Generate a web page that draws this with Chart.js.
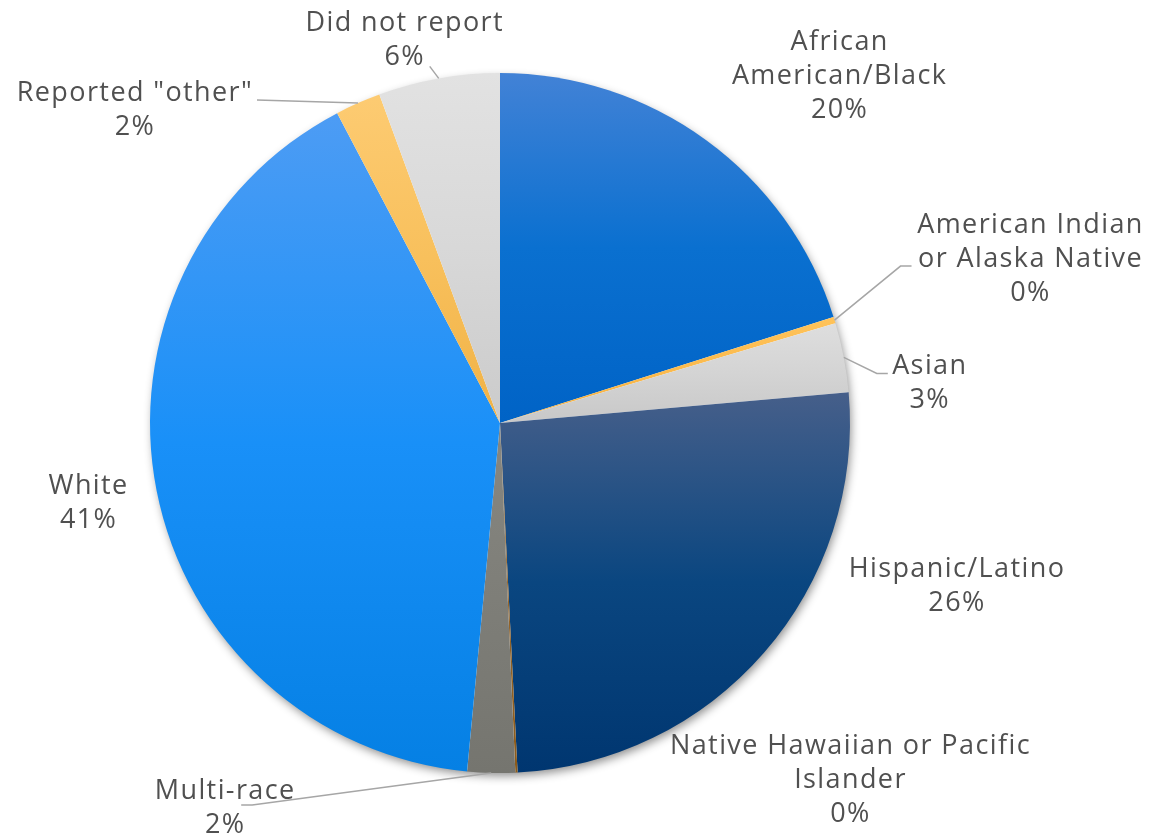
<!DOCTYPE html>
<html>
<head>
<meta charset="utf-8">
<script src="https://cdn.jsdelivr.net/npm/chart.js@4.4.1/dist/chart.umd.min.js"></script>
<style>
  html, body { margin: 0; padding: 0; background: #ffffff; }
  #raceChart { display: block; }
</style>
</head>
<body>
<canvas id="raceChart" width="1150" height="838"></canvas>
<script>
const categories = [
  ["African", "American/Black"],
  ["American Indian", "or Alaska Native"],
  ["Asian"],
  ["Hispanic/Latino"],
  ["Native Hawaiian or Pacific", "Islander"],
  ["Multi-race"],
  ["White"],
  ['Reported "other"'],
  ["Did not report"]
];
const shares = [20.1, 0.3, 3.2, 25.6, 0.1, 2.2, 40.8, 2.1, 5.6];

// top / middle / bottom colour of each slice's vertical gradient
const topColors = ["#4282d6", "#ffc35a", "#dedede", "#465f8a", "#a0702a", "#878781", "#4d9cf4", "#fdcb72", "#e2e2e2"];
const midColors = ["#0a70d0", "#fbba4d", "#d4d4d4", "#0a4680", "#95652a", "#7e7e78", "#1990f8", "#f8c05c", "#d8d8d8"];
const bottomColors = ["#0063c6", "#f5b040", "#c8c8c8", "#003670", "#8a5a1a", "#75756f", "#0580e4", "#f0b246", "#cbcbcb"];

// label placement relative to the outer middle of each slice,
// leader points relative to the label centre
const labelLayout = [
  { dx: 133, dy: -66, leader: [] },
  { dx: 196, dy: -63, leader: [[-130, 9], [-119, 9]] },
  { dx: 86, dy: 24, leader: [[-53, -8], [-42, -8]] },
  { dx: 193, dy: -68, leader: [] },
  { dx: 334, dy: 6, leader: [] },
  { dx: -266, dy: 33, leader: [[27, -1], [16, -1]] },
  { dx: -68, dy: 11, leader: [] },
  { dx: -223, dy: 5, leader: [[122, -8]] },
  { dx: -34, dy: -40, leader: [[25, 28]] }
];

const total = shares.reduce((a, b) => a + b, 0);

function sliceGradient(context) {
  const chart = context.chart;
  const area = chart.chartArea;
  const i = context.dataIndex;
  if (!area) return bottomColors[i];
  const cx = (area.left + area.right) / 2;
  const cy = (area.top + area.bottom) / 2;
  const r = Math.min(area.right - area.left, area.bottom - area.top) / 2;
  let before = 0;
  for (let k = 0; k < i; k++) before += shares[k];
  const a0 = -Math.PI / 2 + (before / total) * Math.PI * 2;
  const a1 = a0 + (shares[i] / total) * Math.PI * 2;
  let minY = cy, maxY = cy;
  const ys = [cy + Math.sin(a0) * r, cy + Math.sin(a1) * r];
  for (let q = -1; q <= 4; q++) {
    const a = q * Math.PI / 2;
    if (a > a0 && a < a1) ys.push(cy + Math.sin(a) * r);
  }
  ys.forEach(y => { minY = Math.min(minY, y); maxY = Math.max(maxY, y); });
  const g = chart.ctx.createLinearGradient(0, minY, 0, maxY);
  g.addColorStop(0, topColors[i]);
  g.addColorStop(0.5, midColors[i]);
  g.addColorStop(1, bottomColors[i]);
  return g;
}

// soft shadow under the whole pie
const pieShadow = {
  id: "pieShadow",
  beforeDatasetsDraw(chart) {
    const arc = chart.getDatasetMeta(0).data[0];
    if (!arc) return;
    const { x, y, outerRadius } = arc.getProps(["x", "y", "outerRadius"], true);
    const ctx = chart.ctx;
    ctx.save();
    ctx.shadowColor = "rgba(0,0,0,0.45)";
    ctx.shadowBlur = 10;
    ctx.shadowOffsetX = 2;
    ctx.shadowOffsetY = 4;
    ctx.fillStyle = "#ffffff";
    ctx.beginPath();
    ctx.arc(x, y, outerRadius - 1, 0, Math.PI * 2);
    ctx.fill();
    ctx.restore();
  }
};

// category + percent labels with leader lines
const sliceLabels = {
  id: "sliceLabels",
  afterDatasetsDraw(chart) {
    const ctx = chart.ctx;
    const meta = chart.getDatasetMeta(0);
    ctx.save();
    ctx.font = "27px 'Open Sans'";
    ctx.letterSpacing = "1.4px";
    ctx.fillStyle = "#505050";
    ctx.textAlign = "center";
    ctx.textBaseline = "middle";
    meta.data.forEach((arc, i) => {
      const p = arc.getProps(["x", "y", "startAngle", "endAngle", "outerRadius"], true);
      const mid = (p.startAngle + p.endAngle) / 2;
      const ax = p.x + Math.cos(mid) * p.outerRadius;
      const ay = p.y + Math.sin(mid) * p.outerRadius;
      const lay = labelLayout[i];
      const lx = ax + lay.dx;
      const ly = ay + lay.dy;
      if (lay.leader.length) {
        ctx.strokeStyle = "#a6a6a6";
        ctx.lineWidth = 1.5;
        ctx.beginPath();
        ctx.moveTo(ax, ay);
        lay.leader.forEach(([px, py]) => ctx.lineTo(lx + px, ly + py));
        ctx.stroke();
      }
      const lines = categories[i].concat([Math.round(shares[i]) + "%"]);
      const lh = 34;
      lines.forEach((t, j) => {
        ctx.fillText(t, lx, ly + 2 + (j - (lines.length - 1) / 2) * lh);
      });
    });
    ctx.restore();
  }
};

new Chart(document.getElementById("raceChart"), {
  type: "pie",
  data: {
    labels: categories,
    datasets: [
      {
        data: shares,
        backgroundColor: sliceGradient,
        borderWidth: 0,
        hoverOffset: 0
      }
    ]
  },
  options: {
    responsive: false,
    animation: false,
    layout: {
      padding: { left: 150, right: 300, top: 73, bottom: 65 }
    },
    plugins: {
      legend: { display: false },
      tooltip: { enabled: false }
    }
  },
  plugins: [pieShadow, sliceLabels]
});
</script>
</body>
</html>
